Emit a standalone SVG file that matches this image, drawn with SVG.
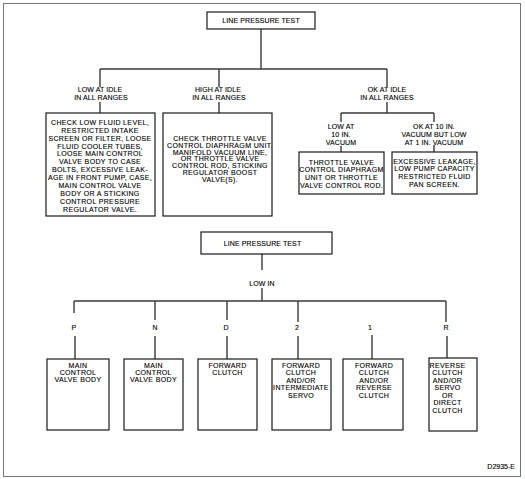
<svg xmlns="http://www.w3.org/2000/svg" width="525" height="479" viewBox="0 0 525 479">
<style>
text{font-family:"Liberation Sans",Arial,sans-serif;font-size:7px;fill:#000;stroke:#000;stroke-width:0.12;text-anchor:middle}
.bx{letter-spacing:0.35px}
.lb{letter-spacing:0.1px}
.box{fill:#fff;stroke:#1a1a1a;stroke-width:1.2}
.c{stroke:#3a3a3a;stroke-width:1.4;fill:none}
.frame{fill:#fff;stroke:#777;stroke-width:1}
</style>
<rect class="frame" x="3.5" y="3.5" width="517" height="473"/>
<g id="connectors">
<path class="c" d="M261,29V69M100,69H387M100,69V87M219,69V87M387,69V87M100,102V113M219,102V113M387,102V113M341,113H434M341,113V122M434,113V122M341,146V152M434,145V152"/>
<path class="c" d="M262,254V270M262,288V301M74,301H446M74,301V313M155,301V320M227,301V320M298,301V322M446,301V322M75,336V359M155,336V359M227,336V359M298,336V359M372,335V359M447,336V358"/>
</g>
<g id="top">
<rect class="box" x="207" y="12" width="108" height="17"/>
<text x="261" y="23" class="lb">LINE PRESSURE TEST</text>
</g>
<g id="lbl-low">
<text x="100" y="92" class="lb">LOW AT IDLE</text>
<text x="101" y="100" class="lb">IN ALL RANGES</text>
</g>
<g id="lbl-high">
<text x="218" y="92" class="lb">HIGH AT IDLE</text>
<text x="219" y="100" class="lb">IN ALL RANGES</text>
</g>
<g id="lbl-ok">
<text x="387" y="92" class="lb">OK AT IDLE</text>
<text x="387" y="100" class="lb">IN ALL RANGES</text>
</g>
<g id="box-low" class="bx">
<rect class="box" x="46" y="113" width="109" height="103"/>
<text x="100" y="125">CHECK LOW FLUID LEVEL,</text>
<text x="100" y="132.9">RESTRICTED INTAKE</text>
<text x="100" y="140.7">SCREEN OR FILTER, LOOSE</text>
<text x="100" y="148.6">FLUID COOLER TUBES,</text>
<text x="100" y="156.4">LOOSE MAIN CONTROL</text>
<text x="100" y="164.3">VALVE BODY TO CASE</text>
<text x="100" y="172.2">BOLTS, EXCESSIVE LEAK-</text>
<text x="100" y="180">AGE IN FRONT PUMP, CASE,</text>
<text x="100" y="187.9">MAIN CONTROL VALVE</text>
<text x="100" y="195.7">BODY OR A STICKING</text>
<text x="100" y="203.6">CONTROL PRESSURE</text>
<text x="100" y="211.5">REGULATOR VALVE.</text>
</g>
<g id="box-high" class="bx">
<rect class="box" x="163" y="113" width="109" height="103"/>
<text x="220" y="141">CHECK THROTTLE VALVE</text>
<text x="220" y="147.8">CONTROL DIAPHRAGM UNIT.</text>
<text x="220" y="154.6">MANIFOLD VACUUM LINE,</text>
<text x="220" y="161.4">OR THROTTLE VALVE</text>
<text x="220" y="168.2">CONTROL ROD, STICKING</text>
<text x="220" y="175">REGULATOR BOOST</text>
<text x="220" y="181.8">VALVE(S).</text>
</g>
<g id="lbl-low10">
<text x="341" y="128.5" class="lb">LOW AT</text>
<text x="341" y="136.5" class="lb">10 IN.</text>
<text x="341" y="144.5" class="lb">VACUUM</text>
</g>
<g id="lbl-ok10">
<text x="434" y="128.5" class="lb">OK AT 10 IN.</text>
<text x="434" y="136.5" class="lb">VACUUM BUT LOW</text>
<text x="434" y="144.5" class="lb">AT 1 IN. VACUUM</text>
</g>
<g id="box-tv" class="bx">
<rect class="box" x="299" y="152" width="85" height="42"/>
<text x="341.5" y="164.5">THROTTLE VALVE</text>
<text x="341.5" y="172">CONTROL DIAPHRAGM</text>
<text x="341.5" y="179.5">UNIT OR THROTTLE</text>
<text x="341.5" y="187.5">VALVE CONTROL ROD.</text>
</g>
<g id="box-leak" class="bx">
<rect class="box" x="392" y="152" width="85" height="42"/>
<text x="434.5" y="163.5">EXCESSIVE LEAKAGE,</text>
<text x="434.5" y="171">LOW PUMP CAPACITY</text>
<text x="434.5" y="178.5">RESTRICTED FLUID</text>
<text x="434.5" y="186.5">PAN SCREEN.</text>
</g>
<g id="top2">
<rect class="box" x="201" y="232" width="131" height="22"/>
<text x="262.5" y="245.5" class="lb">LINE PRESSURE TEST</text>
</g>
<g id="lbl-lowin"><text x="262" y="285.5" class="lb">LOW IN</text></g>
<g id="ranges" class="lb">
<text x="74" y="329.5">P</text>
<text x="155" y="329.5">N</text>
<text x="226" y="329.5">D</text>
<text x="297" y="329.5">2</text>
<text x="370" y="329.5">1</text>
<text x="446" y="329.5">R</text>
</g>
<g id="box-p" class="bx">
<rect class="box" x="47" y="359" width="62" height="71"/>
<text x="78" y="367.5">MAIN</text>
<text x="78" y="374.5">CONTROL</text>
<text x="78" y="381.5">VALVE BODY</text>
</g>
<g id="box-n" class="bx">
<rect class="box" x="124" y="359" width="59" height="71"/>
<text x="153.5" y="367.5">MAIN</text>
<text x="153.5" y="374.5">CONTROL</text>
<text x="153.5" y="381.5">VALVE BODY</text>
</g>
<g id="box-d" class="bx">
<rect class="box" x="198" y="359" width="59" height="71"/>
<text x="227.5" y="367.5">FORWARD</text>
<text x="227.5" y="374.5">CLUTCH</text>
</g>
<g id="box-2" class="bx">
<rect class="box" x="272" y="359" width="59" height="71"/>
<text x="301" y="367.5">FORWARD</text>
<text x="301" y="375">CLUTCH</text>
<text x="301" y="382.5">AND/OR</text>
<text x="301" y="390">INTERMEDIATE</text>
<text x="301" y="397.5">SERVO</text>
</g>
<g id="box-1" class="bx">
<rect class="box" x="343" y="359" width="60" height="71"/>
<text x="374" y="367.5">FORWARD</text>
<text x="374" y="375">CLUTCH</text>
<text x="374" y="382.5">AND/OR</text>
<text x="374" y="390">REVERSE</text>
<text x="374" y="397.5">CLUTCH</text>
</g>
<g id="box-r" class="bx">
<rect class="box" x="429" y="358" width="48" height="73"/>
<text x="447.5" y="367.5">REVERSE</text>
<text x="447.5" y="375">CLUTCH</text>
<text x="447.5" y="382.5">AND/OR</text>
<text x="447.5" y="390">SERVO</text>
<text x="447.5" y="397.5">OR</text>
<text x="447.5" y="405">DIRECT</text>
<text x="447.5" y="412.5">CLUTCH</text>
</g>
<text x="515" y="468.5" style="text-anchor:end">D2935-E</text>
</svg>
